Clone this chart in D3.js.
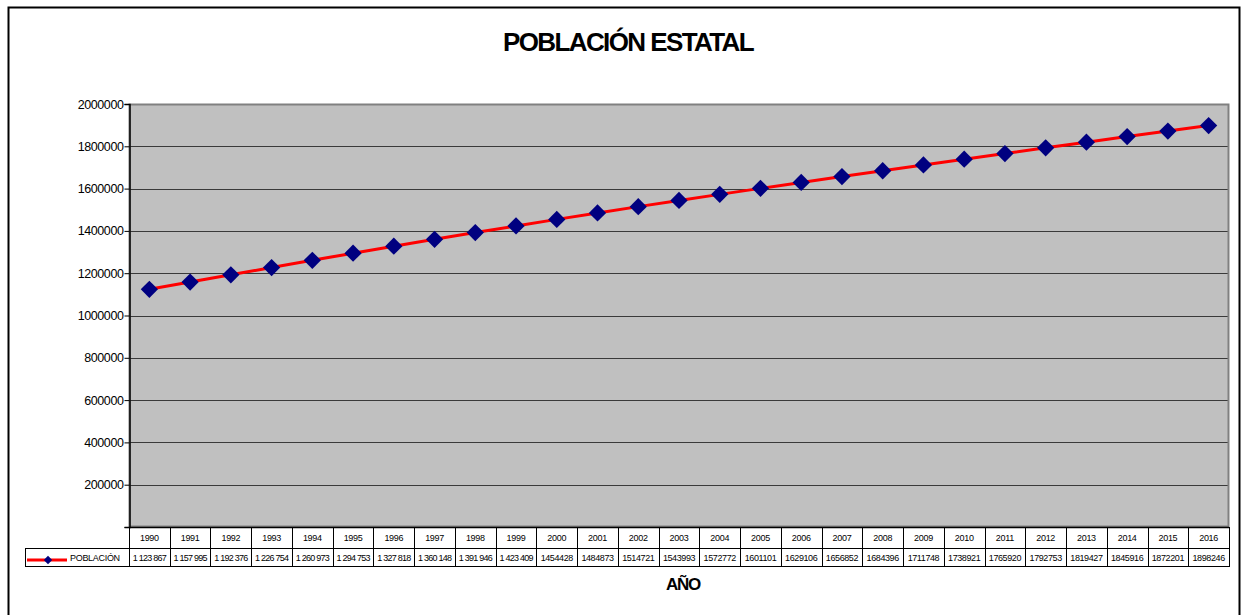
<!DOCTYPE html>
<html>
<head>
<meta charset="utf-8">
<script src="https://cdn.jsdelivr.net/npm/d3@7"></script>
<style>
  body { margin: 0; background: #fff; }
  text { font-family: "Liberation Sans", Arial, sans-serif; }
</style>
</head>
<body>
<script>
// Data
var years = [1990, 1991, 1992, 1993, 1994, 1995, 1996, 1997, 1998, 1999, 2000, 2001, 2002,
             2003, 2004, 2005, 2006, 2007, 2008, 2009, 2010, 2011, 2012, 2013, 2014, 2015, 2016];
var poblacion = [1123867, 1157995, 1192376, 1226754, 1260973, 1294753, 1327818, 1360148,
                 1391946, 1423409, 1454428, 1484873, 1514721, 1543993, 1572772, 1601101,
                 1629106, 1656852, 1684396, 1711748, 1738921, 1765920, 1792753, 1819427,
                 1845916, 1872201, 1898246];
// table text as shown (first years use spaced thousands)
var tableLabels = ["1 123 867", "1 157 995", "1 192 376", "1 226 754", "1 260 973", "1 294 753",
                   "1 327 818", "1 360 148", "1 391 946", "1 423 409", "1454428", "1484873",
                   "1514721", "1543993", "1572772", "1601101", "1629106", "1656852", "1684396",
                   "1711748", "1738921", "1765920", "1792753", "1819427", "1845916", "1872201",
                   "1898246"];
var yTicks = [200000, 400000, 600000, 800000, 1000000, 1200000, 1400000, 1600000, 1800000, 2000000];
var yTickLabels = ["200000", "400000", "600000", "800000", "1000000", "1200000", "1400000",
                   "1600000", "1800000", "2000000"];

var width = 1243, height = 615;
var plot = { left: 129, right: 1229, top: 104, bottom: 527 };
var row1 = 548, row2 = 566, legendLeft = 25;

var svg = d3.select("body").append("svg")
    .attr("width", width)
    .attr("height", height);

// outer frame
svg.append("rect")
    .attr("x", 8.5).attr("y", 7.5)
    .attr("width", 1231).attr("height", 620)
    .attr("fill", "#fff")
    .attr("stroke", "#000")
    .attr("stroke-width", 2);

// scales
var x = d3.scaleBand()
    .domain(years)
    .range([plot.left, plot.right]);

var y = d3.scaleLinear()
    .domain([0, 2000000])
    .range([plot.bottom, plot.top]);

// plot background
svg.append("rect")
    .attr("x", plot.left).attr("y", plot.top)
    .attr("width", plot.right - plot.left)
    .attr("height", plot.bottom - plot.top)
    .attr("fill", "#c0c0c0");

// gridlines
svg.append("g")
    .selectAll("line")
    .data(yTicks)
    .enter().append("line")
    .attr("x1", plot.left).attr("x2", plot.right)
    .attr("y1", function(d) { return Math.round(y(d)) + 0.5; })
    .attr("y2", function(d) { return Math.round(y(d)) + 0.5; })
    .attr("stroke", "#3a3a3a")
    .attr("stroke-width", 1);

// plot border (gray)
svg.append("rect")
    .attr("x", plot.left + 0.5).attr("y", plot.top + 0.5)
    .attr("width", plot.right - plot.left - 1)
    .attr("height", plot.bottom - plot.top - 1)
    .attr("fill", "none")
    .attr("stroke", "#808080")
    .attr("stroke-width", 2);

// y axis
var yAxis = svg.append("g")
    .attr("transform", "translate(" + (plot.left + 0.5) + ",0)")
    .call(d3.axisLeft(y)
        .tickValues([0].concat(yTicks))
        .tickSize(5)
        .tickFormat(function(d, i) { return i === 0 ? "" : yTickLabels[i - 1]; }));
yAxis.select(".domain").attr("stroke", "#000").attr("stroke-width", 1.5);
yAxis.selectAll(".tick line").attr("stroke", "#000");
yAxis.selectAll(".tick text")
    .attr("font-size", "12.5px")
    .attr("letter-spacing", "-0.4px")
    .attr("fill", "#000")
    .attr("x", -6);

// data table
var table = svg.append("g").attr("stroke", "#000").attr("stroke-width", 1).attr("fill", "none");
table.append("line").attr("x1", plot.left).attr("x2", plot.right)
    .attr("y1", plot.bottom + 0.5).attr("y2", plot.bottom + 0.5).attr("stroke-width", 1.5);
table.append("line").attr("x1", legendLeft).attr("x2", plot.right)
    .attr("y1", row1 + 0.5).attr("y2", row1 + 0.5);
table.append("line").attr("x1", legendLeft).attr("x2", plot.right)
    .attr("y1", row2 + 0.5).attr("y2", row2 + 0.5);
table.append("line").attr("x1", legendLeft + 0.5).attr("x2", legendLeft + 0.5)
    .attr("y1", row1).attr("y2", row2 + 1);
table.selectAll(".sep")
    .data(years)
    .enter().append("line")
    .attr("class", "sep")
    .attr("x1", function(d) { return Math.round(x(d)) + 0.5; })
    .attr("x2", function(d) { return Math.round(x(d)) + 0.5; })
    .attr("y1", plot.bottom).attr("y2", row2 + 1);
table.append("line")
    .attr("x1", plot.right + 0.5).attr("x2", plot.right + 0.5)
    .attr("y1", plot.bottom).attr("y2", row2 + 1);

svg.append("g").selectAll("text")
    .data(years)
    .enter().append("text")
    .attr("x", function(d) { return x(d) + x.bandwidth() / 2; })
    .attr("y", 541)
    .attr("text-anchor", "middle")
    .attr("font-size", "9px")
    .attr("letter-spacing", "-0.3px")
    .text(function(d) { return d; });

svg.append("g").selectAll("text")
    .data(tableLabels)
    .enter().append("text")
    .attr("x", function(d, i) { return x(years[i]) + x.bandwidth() / 2; })
    .attr("y", 560.5)
    .attr("text-anchor", "middle")
    .attr("font-size", "9px")
    .attr("letter-spacing", function(d) { return d.length > 7 ? "-0.75px" : "-0.4px"; })
    .text(function(d) { return d; });

// legend key in table
var key = svg.append("g");
key.append("line")
    .attr("x1", 27).attr("x2", 67)
    .attr("y1", 560).attr("y2", 560)
    .attr("stroke", "#ff0000").attr("stroke-width", 3);
key.append("path")
    .attr("d", d3.symbol().type(d3.symbolDiamond2).size(45))
    .attr("transform", "translate(48,560)")
    .attr("fill", "#000080");
key.append("text")
    .attr("x", 70).attr("y", 560.5)
    .attr("font-size", "9px")
    .attr("letter-spacing", "-0.3px")
    .text("POBLACIÓN");

// series line
var line = d3.line()
    .x(function(d, i) { return x(years[i]) + x.bandwidth() / 2; })
    .y(function(d) { return y(d); });

svg.append("path")
    .datum(poblacion)
    .attr("d", line)
    .attr("fill", "none")
    .attr("stroke", "#ff0000")
    .attr("stroke-width", 3);

svg.append("g").selectAll("path")
    .data(poblacion)
    .enter().append("path")
    .attr("d", d3.symbol().type(d3.symbolDiamond2).size(190))
    .attr("transform", function(d, i) {
        return "translate(" + (x(years[i]) + x.bandwidth() / 2) + "," + y(d) + ")";
    })
    .attr("fill", "#000080");

// title and axis title
svg.append("text")
    .attr("x", 628).attr("y", 51)
    .attr("text-anchor", "middle")
    .attr("font-size", "26px")
    .attr("font-weight", "bold")
    .attr("letter-spacing", "-1.6px")
    .text("POBLACIÓN ESTATAL");

svg.append("text")
    .attr("x", 683).attr("y", 590)
    .attr("text-anchor", "middle")
    .attr("font-size", "17px")
    .attr("font-weight", "bold")
    .attr("letter-spacing", "-1.2px")
    .text("AÑO");
</script>
</body>
</html>
